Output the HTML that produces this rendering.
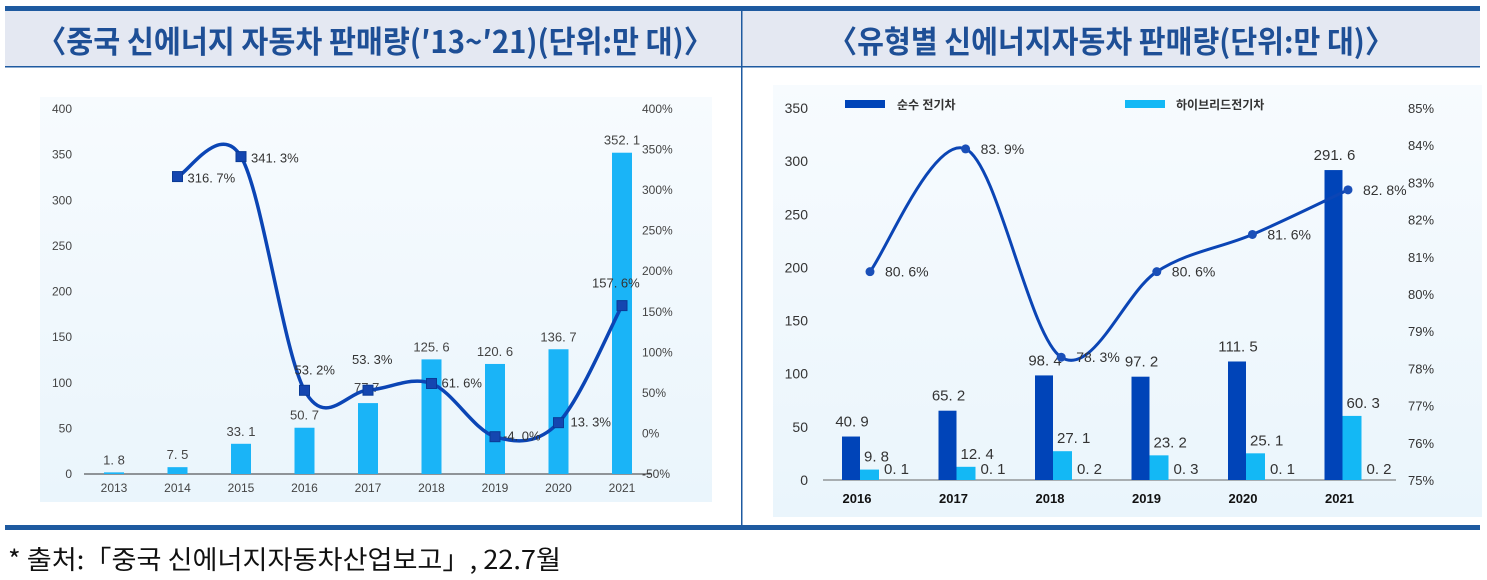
<!DOCTYPE html>
<html><head><meta charset="utf-8"><style>
body{margin:0;width:1487px;height:580px;background:#fff;overflow:hidden;font-family:"Liberation Sans","Noto Sans CJK KR",sans-serif;}
svg{position:absolute;left:0;top:0}
</style></head><body>
<svg id="s" width="1487" height="580" xmlns="http://www.w3.org/2000/svg" font-family="Liberation Sans, Noto Sans CJK KR, sans-serif">
<defs>
<linearGradient id="bg" x1="0" y1="0" x2="0" y2="1"><stop offset="0" stop-color="#f7fbfe"/><stop offset="1" stop-color="#eaf5fc"/></linearGradient>
</defs>
<rect x="5" y="6" width="1475" height="5" fill="#1e5aa0"/>
<rect x="5" y="11" width="1475" height="56" fill="#e4e8f2"/>
<rect x="5" y="66" width="1475" height="1.5" fill="#1e5aa0"/>
<rect x="741" y="11" width="1.5" height="515" fill="#1e5aa0"/>
<rect x="5" y="525" width="1475" height="5" fill="#1e5aa0"/>
<text x="37" y="53" textLength="676" lengthAdjust="spacingAndGlyphs" font-size="31" font-weight="bold" fill="#1e4f96" font-family="Noto Sans CJK KR, sans-serif">〈중국 신에너지 자동차 판매량(′13~′21)(단위:만 대)〉</text>
<text x="828" y="53" textLength="566" lengthAdjust="spacingAndGlyphs" font-size="31" font-weight="bold" fill="#1e4f96" font-family="Noto Sans CJK KR, sans-serif">〈유형별 신에너지자동차 판매량(단위:만 대)〉</text>
<text x="8" y="569" textLength="553" lengthAdjust="spacingAndGlyphs" font-size="26" fill="#111" font-family="Noto Sans CJK KR, sans-serif">* 출처:「중국 신에너지자동차산업보고」, 22.7월</text>
<rect x="40" y="97" width="672" height="405" fill="url(#bg)"/>
<rect x="773" y="85" width="709" height="432" fill="url(#bg)"/>
<g id="L" font-size="12" fill="#444"></g>
<g id="R" font-size="13" fill="#333"></g>
</svg>
<script>
var NS="http://www.w3.org/2000/svg";
function el(p,t,a,txt){var e=document.createElementNS(NS,t);for(var k in a)e.setAttribute(k,a[k]);if(txt!=null)e.textContent=txt;p.appendChild(e);return e;}
function cr(pts){var d="M"+pts[0][0]+","+pts[0][1];for(var i=0;i<pts.length-1;i++){var p0=pts[i-1]||pts[i],p1=pts[i],p2=pts[i+1],p3=pts[i+2]||p2;var t=1/6;d+=" C"+(p1[0]+(p2[0]-p0[0])*t)+","+(p1[1]+(p2[1]-p0[1])*t)+" "+(p2[0]-(p3[0]-p1[0])*t)+","+(p2[1]-(p3[1]-p1[1])*t)+" "+p2[0]+","+p2[1];}return d;}
function fm(v){return v.replace("."," . ").replace(/ \. /,". ");}
// left chart
var L=document.getElementById("L");
var base=474,h=365;
for(var i=0;i<=8;i++){var y=base-i*h/8;el(L,"text",{x:72,y:y+4,"text-anchor":"end"},String(i*50));}
for(var i=0;i<=9;i++){var y=base-i*h/9;el(L,"text",{x:642,y:y+4},(i*50-50)+"%");}
el(L,"line",{x1:84,x2:652,y1:base,y2:base,stroke:"#333","stroke-width":1});
var yrs=[2013,2014,2015,2016,2017,2018,2019,2020,2021],vals=[1.8,7.5,33.1,50.7,77.7,125.6,120.6,136.7,352.1];
var xs=yrs.map(function(y,i){return 114+i*63.5});
for(var i=0;i<9;i++){var bh=vals[i]*h/400;el(L,"rect",{x:xs[i]-10,y:base-bh,width:20,height:bh,fill:"#1ab4f7"});el(L,"text",{x:xs[i],y:base+18,"text-anchor":"middle"},String(yrs[i]));if(i!=4)el(L,"text",{x:xs[i],y:base-bh-8,"text-anchor":"middle","font-size":13},fm(String(vals[i])));}
el(L,"text",{x:xs[4]-14,y:392,"font-size":13},"77.7");
var pc=[null,316.7,341.3,53.2,53.3,61.6,-4.0,13.3,157.6];var pts=[];
for(var i=1;i<9;i++)pts.push([xs[i],474-(pc[i]+50)*365/450]);
el(L,"path",{d:cr(pts),fill:"none",stroke:"#0b45b5","stroke-width":3.5});
var lbl=[[10,6,"316. 7%"],[10,6,"341. 3%"],[-10,-16,"53. 2%"],[-16,-26,"53. 3%"],[10,4,"61. 6%"],[8,4,"-4. 0%"],[12,4,"13. 3%"],[-30,-18,"157. 6%"]];
pts.forEach(function(p,i){el(L,"rect",{x:p[0]-5,y:p[1]-5,width:10,height:10,fill:"#1446b0",stroke:"#0a3a95"});el(L,"text",{x:p[0]+lbl[i][0],y:p[1]+lbl[i][1],"font-size":13,fill:"#333"},lbl[i][2]);});
// right chart
var R=document.getElementById("R");
var b2=480,h2=372;
for(var i=0;i<=7;i++){var y=b2-i*h2/7;el(R,"text",{x:808,y:y+5,"text-anchor":"end","font-size":14},String(i*50));}
for(var i=0;i<=10;i++){var y=b2-i*h2/10;el(R,"text",{x:1408,y:y+5,"font-size":13},(75+i)+"%");}
el(R,"line",{x1:823,x2:1396,y1:b2,y2:b2,stroke:"#666","stroke-width":1});
el(R,"rect",{x:845,y:100,width:40,height:8,fill:"#0044b8"});el(R,"text",{x:897,y:109,"font-size":12,"font-weight":"bold"},"순수 전기차");
el(R,"rect",{x:1125,y:100,width:40,height:8,fill:"#13b8f5"});el(R,"text",{x:1176,y:109,"font-size":12,"font-weight":"bold"},"하이브리드전기차");
var y2=[2016,2017,2018,2019,2020,2021],d1=[40.9,65.2,98.4,97.2,111.5,291.6],d2=[9.8,12.4,27.1,23.2,25.1,60.3],d3=["0.1","0.1","0.2","0.3","0.1","0.2"],pr=[80.6,83.9,78.3,80.6,81.6,82.8];
var p2=[];
for(var i=0;i<6;i++){var c=860+i*96.5;var a=d1[i]*h2/350,bb=d2[i]*h2/350;
el(R,"rect",{x:c-18,y:b2-a,width:18,height:a,fill:"#0044b8"});
el(R,"rect",{x:c,y:b2-bb,width:19,height:bb,fill:"#13b8f5"});
el(R,"text",{x:c-3,y:b2+23,"text-anchor":"middle","font-size":13,"font-weight":"bold",fill:"#111"},String(y2[i]));
el(R,"text",{x:c-8,y:b2-a-10,"text-anchor":"middle","font-size":15},fm(d1[i].toFixed(1)));
el(R,"text",{x:c+4,y:b2-bb-8,"font-size":15},fm(d2[i].toFixed(1)));
el(R,"text",{x:c+24,y:b2-6,"font-size":15},fm(d3[i]));
p2.push([870+i*95.6,b2-(pr[i]-75)*h2/10]);}
el(R,"path",{d:cr(p2),fill:"none",stroke:"#0b45b5","stroke-width":3});
p2.forEach(function(p,i){el(R,"circle",{cx:p[0],cy:p[1],r:4.5,fill:"#1a4fb8"});el(R,"text",{x:p[0]+15,y:p[1]+5,"font-size":14},fm(pr[i].toFixed(1))+"%");});
</script>
</body></html>
